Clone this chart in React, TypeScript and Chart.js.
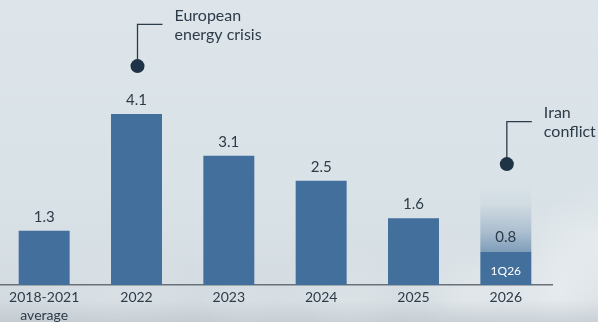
import React, { useEffect, useRef } from "react";
import { Chart, registerables } from "chart.js";

Chart.register(...registerables);

const categories: string[][] = [["2018-2021", "average"], ["2022"], ["2023"], ["2024"], ["2025"], ["2026"]];
const values: number[] = [1.3, 4.1, 3.1, 2.5, 1.6, 0.8];
const valueLabels: string[] = ["1.3", "4.1", "3.1", "2.5", "1.6", "0.8"];
const fadeExtension: (number | null)[] = [null, null, null, null, null, 1.6];
const innerLabels: (string | null)[] = [null, null, null, null, null, "1Q26"];
const annotationIndex: number[] = [1, 5];
const annotationDotValues: number[] = [5.25, 2.9];
const annotationCornerValues: number[] = [6.25, 3.92];
const annotationTexts: string[][] = [["European", "energy crisis"], ["Iran", "conflict"]];

const BAR = "#426f9b";
const TEXT = "#2d3b48";
const DOT = "#1f3346";
const FONT = "Lato, 'Open Sans', sans-serif";

const bgPlugin = {
  id: "bg",
  beforeDraw(chart: any) {
    const { ctx, width, height } = chart;
    ctx.save();
    const g = ctx.createLinearGradient(0, 0, 0, height);
    g.addColorStop(0, "#dde5ea");
    g.addColorStop(0.6, "#d9e2e7");
    g.addColorStop(1, "#d2dadf");
    ctx.fillStyle = g;
    ctx.fillRect(0, 0, width, height);
    const blobs = [
      [560, 290, 90, 0.55],
      [470, 300, 70, 0.4],
      [600, 240, 60, 0.35],
      [350, 320, 80, 0.3],
      [120, 325, 90, 0.2],
      [250, 330, 60, 0.25],
    ];
    for (const [x, y, r, a] of blobs) {
      const rg = ctx.createRadialGradient(x, y, 0, x, y, r);
      rg.addColorStop(0, `rgba(245,247,249,${a})`);
      rg.addColorStop(1, "rgba(245,247,249,0)");
      ctx.fillStyle = rg;
      ctx.fillRect(x - r, y - r, r * 2, r * 2);
    }
    const dg = ctx.createLinearGradient(0, 300, 0, height);
    dg.addColorStop(0, "rgba(150,160,170,0)");
    dg.addColorStop(1, "rgba(150,160,170,0.25)");
    ctx.fillStyle = dg;
    ctx.fillRect(0, 300, width, height - 300);
    ctx.restore();
  },
};

const labelPlugin = {
  id: "labels",
  afterDatasetsDraw(chart: any) {
    const { ctx } = chart;
    const xs = chart.scales.x;
    const ys = chart.scales.y;
    const meta = chart.getDatasetMeta(0);
    ctx.save();
    ctx.textAlign = "center";
    ctx.textBaseline = "middle";
    meta.data.forEach((bar: any, i: number) => {
      ctx.fillStyle = TEXT;
      ctx.font = `15px ${FONT}`;
      ctx.fillText(valueLabels[i], bar.x, bar.y - 14);
      if (innerLabels[i]) {
        ctx.fillStyle = "#ffffff";
        ctx.font = `12px ${FONT}`;
        ctx.fillText(innerLabels[i] as string, bar.x, (bar.y + bar.base) / 2 + 3);
      }
    });
    annotationIndex.forEach((idx, k) => {
      const x = xs.getPixelForValue(idx) + 1;
      const dy = ys.getPixelForValue(annotationDotValues[k]);
      const cy = ys.getPixelForValue(annotationCornerValues[k]);
      ctx.strokeStyle = TEXT;
      ctx.lineWidth = 1.3;
      ctx.beginPath();
      ctx.moveTo(x, dy);
      ctx.lineTo(x, cy);
      ctx.lineTo(x + 25, cy);
      ctx.stroke();
      ctx.fillStyle = DOT;
      ctx.beginPath();
      ctx.arc(x, dy, 7, 0, Math.PI * 2);
      ctx.fill();
      ctx.fillStyle = TEXT;
      ctx.font = `16px ${FONT}`;
      ctx.textAlign = "left";
      ctx.fillText(annotationTexts[k][0], x + 37, cy - 9);
      ctx.fillText(annotationTexts[k][1], x + 37, cy + 10);
      ctx.textAlign = "center";
    });
    ctx.restore();
  },
};

export default function App() {
  const ref = useRef<HTMLCanvasElement | null>(null);
  useEffect(() => {
    if (!ref.current) return;
    const chart = new Chart(ref.current, {
      type: "bar",
      data: {
        labels: categories,
        datasets: [
          {
            data: values,
            backgroundColor: BAR,
            barPercentage: 0.552,
            categoryPercentage: 1,
            stack: "s",
          },
          {
            data: fadeExtension,
            backgroundColor: (c: any) => {
              const ch = c.chart;
              const ys = ch.scales && ch.scales.y;
              const i = c.dataIndex;
              const ext = fadeExtension[i];
              if (!ys || ext == null || !ch.chartArea) return "rgba(66,111,155,0.2)";
              const top = ys.getPixelForValue(values[i] + ext);
              const bot = ys.getPixelForValue(values[i]);
              if (!isFinite(top) || !isFinite(bot)) return "rgba(66,111,155,0.2)";
              const g = ch.ctx.createLinearGradient(0, top, 0, bot);
              g.addColorStop(0, "rgba(66,111,155,0)");
              g.addColorStop(0.3, "rgba(66,111,155,0.06)");
              g.addColorStop(0.7, "rgba(66,111,155,0.3)");
              g.addColorStop(1, "rgba(66,111,155,0.6)");
              return g;
            },
            barPercentage: 0.552,
            categoryPercentage: 1,
            stack: "s",
          },
        ],
      },
      options: {
        animation: false,
        responsive: false,
        maintainAspectRatio: false,
        layout: { padding: { top: 14, right: 46, left: 0, bottom: 0 } },
        plugins: { legend: { display: false }, tooltip: { enabled: false } },
        scales: {
          x: {
            stacked: true,
            grid: { display: false, drawTicks: false },
            border: { display: true, color: "#6b7178", width: 1.5 },
            ticks: {
              color: TEXT,
              font: { family: FONT, size: 14, lineHeight: 1.3 },
              padding: 3,
              maxRotation: 0,
              autoSkip: false,
            },
            afterFit: (scale: any) => {
              scale.height = 37;
            },
          },
          y: {
            stacked: true,
            display: false,
            min: 0,
            max: 6.5,
          },
        },
      },
      plugins: [bgPlugin, labelPlugin],
    } as any);
    return () => chart.destroy();
  }, []);
  return (
    <div style={{ position: "absolute", left: 0, top: 0, width: 598, height: 322, overflow: "hidden" }}>
      <canvas ref={ref} width={600} height={322} style={{ position: "absolute", left: -2, top: 0, width: 600, height: 322 }} />
    </div>
  );
}
